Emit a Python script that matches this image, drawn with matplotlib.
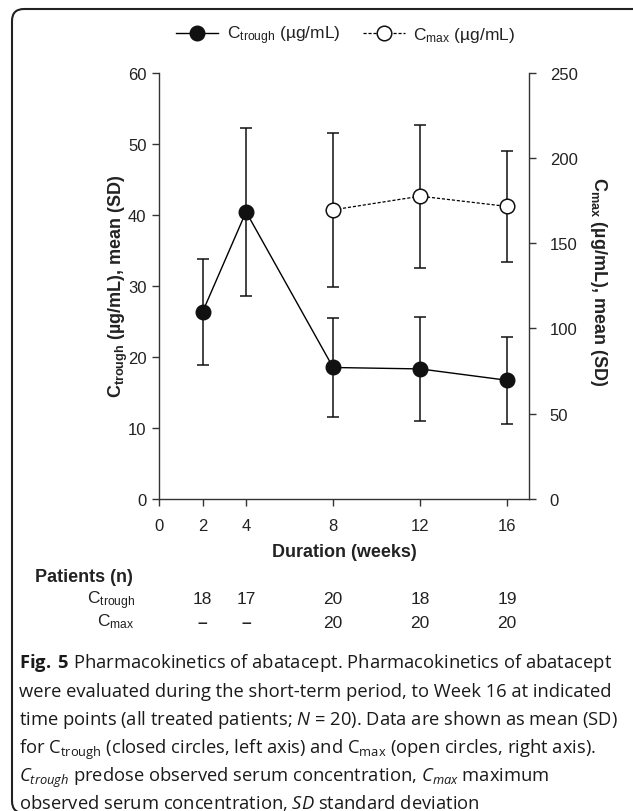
import matplotlib
matplotlib.use("Agg")
import matplotlib.pyplot as plt
import matplotlib.transforms as mtransforms
from matplotlib.patches import FancyBboxPatch
from matplotlib.lines import Line2D

plt.rcParams['font.family'] = ['Liberation Sans', 'DejaVu Sans']
plt.rcParams['mathtext.default'] = 'regular'
plt.rcParams['mathtext.fontset'] = 'custom'
plt.rcParams['mathtext.rm'] = 'Open Sans'
plt.rcParams['mathtext.it'] = 'Open Sans:italic'
plt.rcParams['mathtext.bf'] = 'Open Sans:bold'

# ---- data ----
weeks_trough = [2, 4, 8, 12, 16]
trough_mean = [26.3, 40.4, 18.5, 18.3, 16.7]
trough_sd = [7.5, 11.8, 6.9, 7.3, 6.1]

weeks_cmax = [8, 12, 16]
cmax_mean = [169.5, 177.5, 171.5]
cmax_sd = [45.0, 42.0, 32.5]

x_ticks = [0, 2, 4, 8, 12, 16]
left_ticks = [0, 10, 20, 30, 40, 50, 60]
right_ticks = [0, 50, 100, 150, 200, 250]

n_weeks = [2, 4, 8, 12, 16]
n_trough = ['18', '17', '20', '18', '19']
n_cmax = ['\u2013', '\u2013', '20', '20', '20']

W, H = 633, 812
fig = plt.figure(figsize=(W / 100, H / 100), dpi=100)
fig.patch.set_facecolor('white')

TXT = '#222222'
SP = '#333333'

ax = fig.add_axes([159 / W, 1 - 500 / H, (529 - 159) / W, (500 - 73.5) / H])
ax2 = ax.twinx()

ax.errorbar(weeks_trough, trough_mean, yerr=trough_sd, color='black', lw=1.0,
            marker='o', ms=10.5, mfc='#111111', mec='#111111', ecolor='#111111',
            elinewidth=1.1, capsize=4.5, capthick=1.1, zorder=3)
ax2.errorbar(weeks_cmax, cmax_mean, yerr=cmax_sd, color='black', lw=0.9, ls=(0, (2.5, 1.5)),
             marker='o', ms=10.5, mfc='white', mec='#111111', mew=1.1, ecolor='#111111',
             elinewidth=1.1, capsize=4.5, capthick=1.1, zorder=3)

ax.set_xlim(0, 17)
ax.set_ylim(0, 60)
ax2.set_ylim(0, 250)
ax.set_xticks(x_ticks)
ax.set_yticks(left_ticks)
ax2.set_yticks(right_ticks)

for a in (ax, ax2):
    a.spines['top'].set_visible(False)
    for s in a.spines.values():
        s.set_color(SP)
        s.set_linewidth(1.0)
    a.patch.set_visible(False)
ax.spines['right'].set_visible(False)
ax2.spines['left'].set_visible(False)
ax2.spines['bottom'].set_visible(False)

ax.tick_params(axis='y', direction='out', length=5, width=1, color=SP, labelsize=12,
               labelcolor=TXT, pad=4)
ax.tick_params(axis='x', direction='out', length=5, width=1, color=SP, labelsize=12,
               labelcolor=TXT, pad=9)
ax2.tick_params(axis='y', direction='out', length=5, width=1, color=SP, labelsize=12,
                labelcolor=TXT, pad=10)

ax.set_xlabel('Duration (weeks)', fontsize=13, fontweight='bold', color=TXT, labelpad=7)

fig.text(118 / W, 1 - 286 / H, 'C$_{\\mathregular{trough}}$ (µg/mL), mean (SD)',
         rotation=90, ha='center', va='center', fontsize=13, fontweight='bold', color=TXT)
fig.text(599 / W, 1 - 282 / H, 'C$_{\\mathregular{max}}$ (µg/mL), mean (SD)',
         rotation=270, ha='center', va='center', fontsize=13, fontweight='bold', color=TXT)

# legend
h1 = Line2D([], [], color='black', lw=1.0, marker='o', ms=10.5, mfc='#111111', mec='#111111')
h2 = Line2D([], [], color='black', lw=0.9, ls=(0, (2.5, 1.5)), marker='o', ms=10.5,
            mfc='white', mec='#111111', mew=1.1)
fig.legend([h1, h2], ['C$_{\\mathregular{trough}}$ (µg/mL)', 'C$_{\\mathregular{max}}$ (µg/mL)'],
           loc='center', bbox_to_anchor=(346 / W, 1 - 36 / H), ncol=2, frameon=False,
           fontsize=12.5, handlelength=2.4, handletextpad=0.5, columnspacing=1.3,
           labelcolor=TXT)

# patients table
tr = mtransforms.blended_transform_factory(ax.transData, fig.transFigure)
fig.text(35 / W, 1 - 578 / H, 'Patients (n)', ha='left', va='center', fontsize=13,
         fontweight='bold', color=TXT)
fig.text(135 / W, 1 - 601 / H, 'C$_{\\mathregular{trough}}$', ha='right', va='center',
         fontsize=12.5, color=TXT)
fig.text(135 / W, 1 - 622 / H, 'C$_{\\mathregular{max}}$', ha='right', va='center',
         fontsize=12.5, color=TXT)
for xw, a, b in zip(n_weeks, n_trough, n_cmax):
    ax.text(xw, 1 - 600 / H, a, transform=tr, ha='center', va='center', fontsize=12.5, color=TXT)
    ax.text(xw, 1 - 623 / H, b, transform=tr, ha='center', va='center', fontsize=12.5, color=TXT,
            fontweight='bold' if b == '\u2013' else 'normal')

# caption
cap_lines = [
    r'$\mathbf{Fig.\;5}$ Pharmacokinetics of abatacept. Pharmacokinetics of abatacept',
    'were evaluated during the short-term period, to Week 16 at indicated',
    r'time points (all treated patients; $\mathit{N}$ = 20). Data are shown as mean (SD)',
    r'for C$_{\mathregular{trough}}$ (closed circles, left axis) and C$_{\mathregular{max}}$ (open circles, right axis).',
    r'$\mathit{C_{trough}}$ predose observed serum concentration, $\mathit{C_{max}}$ maximum',
    r'observed serum concentration, $\mathit{SD}$ standard deviation',
]
baselines = [668, 697, 725, 754, 782, 809]
for s, yb in zip(cap_lines, baselines):
    fig.text(19 / W, 1 - yb / H, s, ha='left', va='baseline', fontsize=13.2,
             family=['Open Sans', 'DejaVu Sans'], color='#1a1a1a')

# frame (extends past the right and bottom edges, as in the reference)
frame = FancyBboxPatch((12, -2), 2000, (H - 10) - (-2),
                       boxstyle='round,pad=0,rounding_size=12',
                       transform=mtransforms.IdentityTransform(),
                       fill=False, ec='#222222', lw=1.5)
fig.patches.append(frame)

fig.savefig('out.png', dpi=100)
